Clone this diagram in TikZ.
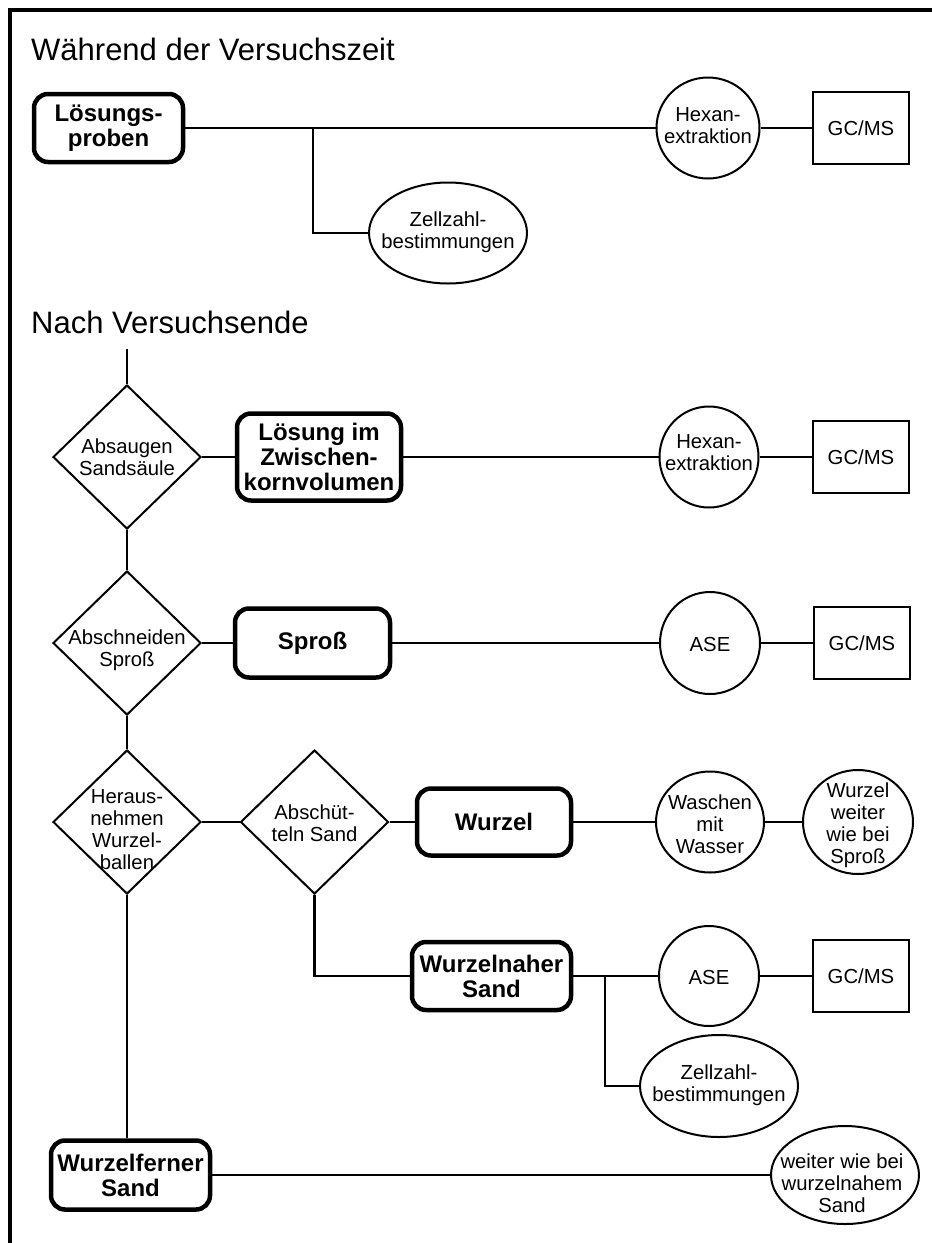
\documentclass[tikz,border=0pt]{standalone}
\usepackage{fontspec}
\setmainfont{Liberation Sans}
\usetikzlibrary{shapes.geometric}
\tikzset{
  conn/.style={line width=2.8pt},
  frame/.style={line width=4pt, line cap=rect, line join=miter},
  proc/.style={draw, line width=4.5pt, rounded corners=14pt, inner sep=0pt, align=center,
    font=\fontsize{24pt}{25pt}\selectfont\bfseries},
  dev/.style={draw, line width=2.4pt, inner sep=0pt, minimum width=96pt, minimum height=72pt,
    font=\fontsize{20.3pt}{22pt}\selectfont},
  dia/.style={draw, shape=diamond, line width=2pt, inner sep=0pt,
    minimum width=148pt, minimum height=144pt},
  oval/.style={draw, shape=ellipse, line width=2pt, inner sep=0pt},
  lbl/.style={inner sep=0pt, align=center, font=\fontsize{20.3pt}{22pt}\selectfont},
  head/.style={anchor=base west, inner sep=0pt, font=\fontsize{31pt}{36pt}\selectfont},
}
\begin{document}
\begin{tikzpicture}[x=1pt, y=-1pt]
\useasboundingbox (0,0) rectangle (932,1243);

% frame
\draw[frame] (10,1243) -- (10,10) -- (932,10);

% section headings
\node[head] (h1) at (31,60) {Während der Versuchszeit};
\node[head] (h2) at (31,333) {Nach Versuchsende};

% --- during the experiment ---
\node[proc, minimum width=149pt, minimum height=68pt] (lp) at (108.5,128) {Lösungs-\\proben};
\node[oval, minimum width=103pt, minimum height=101pt] (hex1) at (708,128) {};
\node[lbl] (hex1t) at (708,126) {Hexan-\\extraktion};
\node[dev] (gc1) at (861,128) {GC/MS};
\node[oval, minimum width=158pt, minimum height=101pt] (zz1) at (448,233) {};
\node[lbl] (zz1t) at (448,232) {Zellzahl-\\bestimmungen};
\coordinate (b1) at (313,128);

\draw[conn] (lp) -- (hex1);
\draw[conn] (hex1) -- (gc1);
\draw[conn] (b1) |- (zz1);

% --- after the experiment ---
\coordinate (top) at (127,349);

% row: pore water
\node[dia] (d1) at (127,457) {};
\node[lbl] (d1t) at (127,457) {Absaugen\\Sandsäule};
\node[proc, minimum width=164pt, minimum height=87pt] (loes) at (319,457) {Lösung im\\Zwischen-\\kornvolumen};
\node[oval, minimum width=99pt, minimum height=101pt] (hex2) at (709,457) {};
\node[lbl] (hex2t) at (709,453) {Hexan-\\extraktion};
\node[dev] (gc2) at (861,457) {GC/MS};

% row: shoot
\node[dia] (d2) at (127,643) {};
\node[lbl] (d2t) at (127,650) {Abschneiden\\Sproß};
\node[proc, minimum width=155pt, minimum height=69pt] (spross) at (312.5,643) {Sproß};
\node[oval, minimum width=100pt, minimum height=102pt] (ase1) at (710,643) {};
\node[lbl] (ase1t) at (710,645) {ASE};
\node[dev] (gc3) at (862,643) {GC/MS};

% row: root
\node[dia] (d3) at (127,822) {};
\node[lbl] (d3t) at (127,830) {Heraus-\\nehmen\\Wurzel-\\ballen};
\node[dia] (d4) at (314.5,822) {};
\node[lbl] (d4t) at (314.5,823) {Abschüt-\\teln Sand};
\node[proc, minimum width=154pt, minimum height=67pt] (wurzel) at (494,822) {Wurzel};
\node[oval, minimum width=108pt, minimum height=101pt] (wasch) at (710,822) {};
\node[lbl] (wascht) at (710,824) {Waschen\\mit\\Wasser};
\node[oval, minimum width=110pt, minimum height=104pt] (ww) at (858,822) {};
\node[lbl] (wwt) at (858,825) {Wurzel\\weiter\\wie bei\\Sproß};

% row: rhizosphere sand
\node[proc, minimum width=159pt, minimum height=68pt] (wns) at (491.5,976) {Wurzelnaher\\Sand};
\node[oval, minimum width=100pt, minimum height=100pt] (ase2) at (709,976) {};
\node[lbl] (ase2t) at (709,977) {ASE};
\node[dev] (gc4) at (861,976) {GC/MS};
\node[oval, minimum width=158pt, minimum height=102pt] (zz2) at (719,1086) {};
\node[lbl] (zz2t) at (719,1085) {Zellzahl-\\bestimmungen};
\coordinate (b2) at (605,976);

% row: bulk sand
\node[proc, minimum width=159pt, minimum height=69pt] (wfs) at (130.5,1175) {Wurzelferner\\Sand};
\node[oval, minimum width=148pt, minimum height=98pt] (wwn) at (845,1175) {};
\node[lbl] (wwnt) at (842,1183) {weiter wie bei\\wurzelnahem\\Sand};

% connectors
\draw[conn] (top) -- (d1);
\draw[conn] (d1) -- (loes) -- (hex2) -- (gc2);
\draw[conn] (d1) -- (d2);
\draw[conn] (d2) -- (spross) -- (ase1) -- (gc3);
\draw[conn] (d2) -- (d3);
\draw[conn] (d3) -- (d4) -- (wurzel) -- (wasch) -- (ww);
\draw[conn] (d4) |- (wns);
\draw[conn] (wns) -- (ase2) -- (gc4);
\draw[conn] (b2) |- (zz2);
\draw[conn] (d3.south) -- (d3.south |- wfs.north);
\draw[conn] (wfs) -- (wwn);
\end{tikzpicture}
\end{document}
